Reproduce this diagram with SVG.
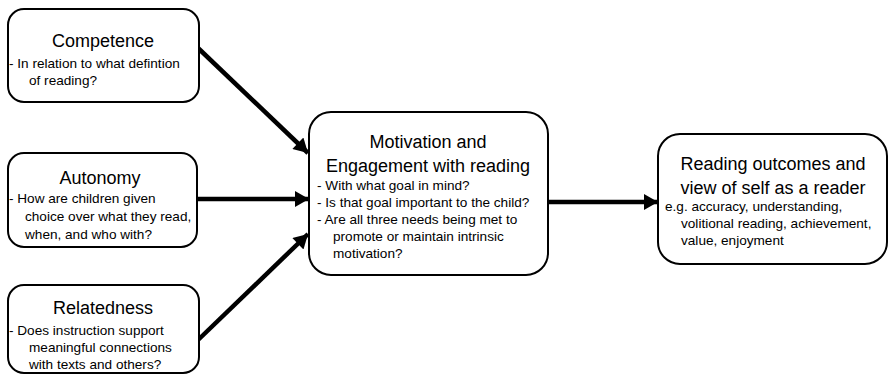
<svg xmlns="http://www.w3.org/2000/svg" width="889" height="378" viewBox="0 0 889 378">
<defs>
<marker id="ah" markerUnits="userSpaceOnUse" markerWidth="16" markerHeight="16" viewBox="0 0 14 16" refX="14" refY="8" orient="auto">
<path d="M0,0 L14,8 L0,16 Z" fill="#000"/>
</marker>
<style>
.box{fill:#fff;stroke:#000;stroke-width:2}
.t{font-family:"Liberation Sans",Arial,sans-serif;font-size:18px;fill:#000;text-anchor:middle}
.s{font-family:"Liberation Sans",Arial,sans-serif;font-size:13.6px;fill:#000}
.c{stroke:#000;stroke-width:4.5;fill:none;marker-end:url(#ah)}
</style>
</defs>
<rect width="889" height="378" fill="#fff"/>
<g id="connectors">
<line class="c" x1="198" y1="48" x2="308" y2="153"/>
<line class="c" x1="197" y1="199" x2="309" y2="199"/>
<line class="c" x1="198" y1="340" x2="308" y2="234"/>
<line class="c" x1="548" y1="202" x2="658" y2="202"/>
</g>
<g id="competence">
<rect class="box" x="8" y="9" width="191" height="93" rx="16"/>
<text class="t" x="103" y="47">Competence</text>
<text class="s" x="9" y="68">- In relation to what defintion</text>
<text class="s" x="29" y="85">of reading?</text>
</g>
<g id="autonomy">
<rect class="box" x="8" y="153" width="189" height="94" rx="16"/>
<text class="t" x="100" y="184">Autonomy</text>
<text class="s" x="9" y="203">- How are children given</text>
<text class="s" x="25" y="221">choice over what they read,</text>
<text class="s" x="25" y="239">when,  and who with?</text>
</g>
<g id="relatedness">
<rect class="box" x="8" y="285" width="191" height="88" rx="16"/>
<text class="t" x="103" y="314">Relatedness</text>
<text class="s" x="9" y="335">- Does instruction support</text>
<text class="s" x="29" y="352">meaningful connections</text>
<text class="s" x="29" y="369">with texts and others?</text>
</g>
<g id="motivation">
<rect class="box" x="309" y="112" width="239" height="163" rx="22"/>
<text class="t" x="428" y="148">Motivation and</text>
<text class="t" x="428" y="172">Engagement with reading</text>
<text class="s" x="317" y="190">- With what goal in mind?</text>
<text class="s" x="317" y="207">- Is that goal important to the child?</text>
<text class="s" x="317" y="224">- Are all three needs being met to</text>
<text class="s" x="333" y="241">promote or maintain intrinsic</text>
<text class="s" x="333" y="258">motivation?</text>
</g>
<g id="outcomes">
<rect class="box" x="658" y="134" width="229" height="130" rx="22"/>
<text class="t" x="773" y="170">Reading outcomes and</text>
<text class="t" x="773" y="194">view of self as a reader</text>
<text class="s" x="665" y="211">e.g. accuracy, understanding,</text>
<text class="s" x="681" y="228">volitional reading, achievement,</text>
<text class="s" x="681" y="245">value, enjoyment</text>
</g>
</svg>
